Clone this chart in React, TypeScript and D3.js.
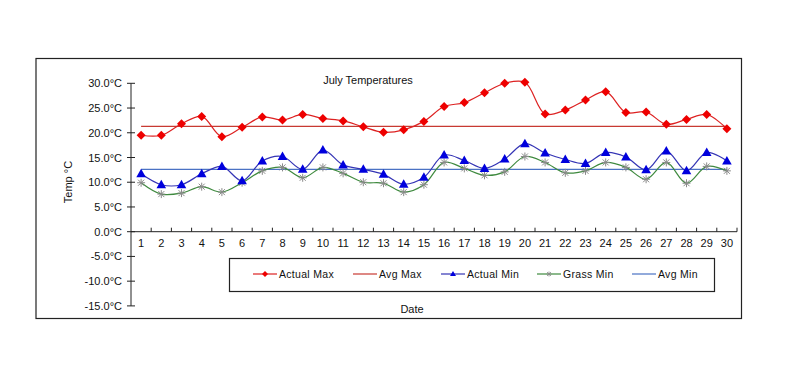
import React from 'react';
import * as d3 from 'd3';

// July daily temperatures (°C)
const days = d3.range(1, 31);
const actualMax = [19.5, 19.5, 21.8, 23.3, 19.2, 21.1, 23.2, 22.6, 23.7, 22.9, 22.4, 21.2, 20.1, 20.6, 22.3, 25.3, 26.1, 28.1, 30.0, 30.2, 23.8, 24.6, 26.6, 28.3, 24.1, 24.2, 21.7, 22.7, 23.7, 20.8];
const actualMin = [11.7, 9.5, 9.5, 11.7, 13.2, 10.3, 14.3, 15.2, 12.6, 16.5, 13.5, 12.6, 11.6, 9.6, 11.0, 15.5, 14.4, 12.8, 14.7, 17.8, 15.9, 14.6, 13.8, 16.0, 15.1, 12.5, 16.3, 12.3, 16.0, 14.3];
const grassMin = [9.9, 7.6, 7.8, 9.1, 8.0, 9.9, 12.3, 13.0, 10.9, 13.0, 11.8, 10.0, 9.8, 8.0, 9.5, 14.0, 12.8, 11.4, 12.1, 15.2, 14.0, 11.9, 12.3, 14.0, 13.0, 10.6, 14.0, 9.8, 13.2, 12.3];
const avgMax = 21.3;
const avgMin = 12.6;
const yTicks = [30, 25, 20, 15, 10, 5, 0, -5, -10, -15];

const FONT = '"Liberation Sans", Arial, sans-serif';

const C = {
  maxLine: '#dd2222',
  maxMark: '#ee0000',
  avgMax: '#c83a32',
  minLine: '#3535b5',
  minMark: '#0000dd',
  grassLine: '#3f8a3f',
  grassMark: '#8a8a8a',
  avgMin: '#4a72c4',
};

const Diamond = ({ x, y }: { x: number; y: number }) => (
  <path d={`M${x},${y - 4.5}L${x + 4.5},${y}L${x},${y + 4.5}L${x - 4.5},${y}Z`} fill={C.maxMark} />
);
const Triangle = ({ x, y }: { x: number; y: number }) => (
  <path d={`M${x},${y - 5}L${x + 4.8},${y + 3.5}L${x - 4.8},${y + 3.5}Z`} fill={C.minMark} />
);
const Star = ({ x, y }: { x: number; y: number }) => (
  <g stroke={C.grassMark} strokeWidth={1}>
    <line x1={x - 4} y1={y} x2={x + 4} y2={y} />
    <line x1={x} y1={y - 4} x2={x} y2={y + 4} />
    <line x1={x - 3} y1={y - 3} x2={x + 3} y2={y + 3} />
    <line x1={x - 3} y1={y + 3} x2={x + 3} y2={y - 3} />
  </g>
);

export default function App() {
  const x = d3.scaleBand<number>().domain(days).range([131, 737]);
  const y = d3.scaleLinear().domain([-15, 30]).range([305.9, 83.3]);
  const cx = (d: number) => (x(d) as number) + x.bandwidth() / 2;

  const smooth = d3
    .line<number>()
    .x((_, i) => cx(days[i]))
    .y((v) => y(v))
    .curve(d3.curveCatmullRom.alpha(0.5));

  const flat = (v: number) =>
    d3.line<number>().x((d) => cx(d)).y(() => y(v))([days[0], days[days.length - 1]]) as string;

  const legendItems = [
    { label: 'Actual Max', color: C.maxLine, x0: 253, mark: 'diamond' },
    { label: 'Avg Max', color: C.avgMax, x0: 353, mark: '' },
    { label: 'Actual Min', color: C.minLine, x0: 441, mark: 'triangle' },
    { label: 'Grass Min', color: C.grassLine, x0: 537, mark: 'star' },
    { label: 'Avg Min', color: C.avgMin, x0: 632, mark: '' },
  ];

  return (
    <svg
      width={786}
      height={380}
      style={{ position: 'absolute', left: 0, top: 0, background: '#fff' }}
      fontFamily={FONT}
    >
      <rect x={36} y={58.5} width={705.5} height={260} fill="#fff" stroke="#222" strokeWidth={1.2} />

      <text x={368} y={84} fontSize={11} textAnchor="middle" fill="#111">July Temperatures</text>

      {/* y axis */}
      <line x1={131} x2={131} y1={y(30)} y2={y(-15)} stroke="#222" />
      {yTicks.map((t) => (
        <g key={t}>
          <line x1={127} x2={135} y1={y(t)} y2={y(t)} stroke="#222" />
          <text x={122} y={y(t) + 4} fontSize={11} textAnchor="end" fill="#111">
            {`${t.toFixed(1)}°C`}
          </text>
        </g>
      ))}
      <text transform={`translate(72,182) rotate(-90)`} fontSize={11} textAnchor="middle" fill="#111">Temp °C</text>

      {/* x axis along zero */}
      <line x1={131} x2={737} y1={y(0)} y2={y(0)} stroke="#222" />
      {days.map((d) => (
        <g key={d}>
          <line x1={(x(d) as number) + x.bandwidth()} x2={(x(d) as number) + x.bandwidth()} y1={y(0)} y2={y(0) - 4} stroke="#222" />
          <text x={cx(d)} y={y(0) + 15} fontSize={11} textAnchor="middle" fill="#111">{d}</text>
        </g>
      ))}
      <text x={412} y={313} fontSize={11} textAnchor="middle" fill="#111">Date</text>

      {/* averages */}
      <path d={flat(avgMax)} stroke={C.avgMax} strokeWidth={1.3} fill="none" />
      <path d={flat(avgMin)} stroke={C.avgMin} strokeWidth={1.3} fill="none" />

      {/* series */}
      <path d={smooth(grassMin) as string} stroke={C.grassLine} strokeWidth={1.2} fill="none" />
      <path d={smooth(actualMin) as string} stroke={C.minLine} strokeWidth={1.2} fill="none" />
      <path d={smooth(actualMax) as string} stroke={C.maxLine} strokeWidth={1.2} fill="none" />
      {grassMin.map((v, i) => <Star key={`g${i}`} x={cx(days[i])} y={y(v)} />)}
      {actualMin.map((v, i) => <Triangle key={`n${i}`} x={cx(days[i])} y={y(v)} />)}
      {actualMax.map((v, i) => <Diamond key={`m${i}`} x={cx(days[i])} y={y(v)} />)}

      {/* legend */}
      <rect x={229.5} y={258.5} width={485} height={33} fill="#fff" stroke="#222" strokeWidth={1.2} />
      {legendItems.map((it) => (
        <g key={it.label}>
          <line x1={it.x0} x2={it.x0 + 24} y1={274} y2={274} stroke={it.color} strokeWidth={1.2} />
          {it.mark === 'diamond' && (
            <path d={`M${it.x0 + 12},${271}L${it.x0 + 15},${274}L${it.x0 + 12},${277}L${it.x0 + 9},${274}Z`} fill={C.maxMark} />
          )}
          {it.mark === 'triangle' && (
            <path d={`M${it.x0 + 12},${271}L${it.x0 + 15},${276}L${it.x0 + 9},${276}Z`} fill={C.minMark} />
          )}
          {it.mark === 'star' && (
            <g stroke={C.grassMark} strokeWidth={0.8}>
              <line x1={it.x0 + 9.5} x2={it.x0 + 14.5} y1={274} y2={274} />
              <line x1={it.x0 + 12} x2={it.x0 + 12} y1={271.5} y2={276.5} />
              <line x1={it.x0 + 10} x2={it.x0 + 14} y1={272} y2={276} />
              <line x1={it.x0 + 10} x2={it.x0 + 14} y1={276} y2={272} />
            </g>
          )}
          <text x={it.x0 + 26} y={278} fontSize={10.5} fill="#111" letterSpacing={0.3}>{it.label}</text>
        </g>
      ))}
    </svg>
  );
}
